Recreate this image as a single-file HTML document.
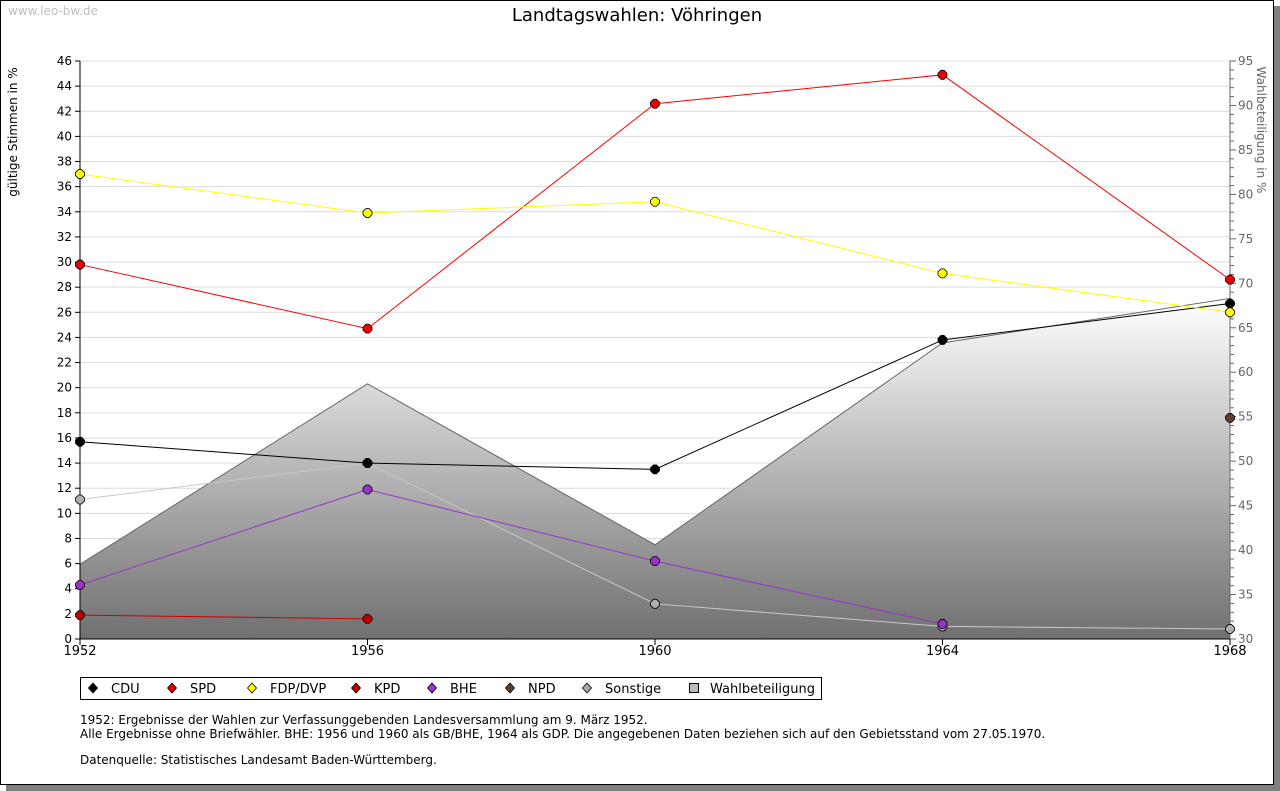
<!DOCTYPE html>
<html><head><meta charset="utf-8">
<style>
body{margin:0;background:#fff;font-family:"DejaVu Sans","Liberation Sans",sans-serif;}
#frame{position:absolute;left:0;top:0;width:1272px;height:783px;border:1px solid #000;background:#fff;box-shadow:6px 6px 0 #808080;}
svg{position:absolute;left:0;top:0}
.t{font-size:12px;fill:#000}
</style></head><body>
<div id="frame"></div>
<svg id="c" width="1280" height="791">
<defs><linearGradient id="g" gradientUnits="userSpaceOnUse"></linearGradient></defs>
</svg>
<script>
const years=[1952,1956,1960,1964,1968];
const cdu=[15.7,14.0,13.5,23.8,26.7];
const spd=[29.8,24.7,42.6,44.9,28.6];
const fdp=[37.0,33.9,34.8,29.1,26.0];
const kpd=[1.9,1.6,null,null,null];
const bhe=[4.3,11.9,6.2,1.2,null];
const npd=[null,null,null,null,17.6];
const sonst=[11.1,14.0,2.8,1.0,0.8];
const wahl=[38.4,58.7,40.6,63.3,68.3];
const leftTicks=[0,2,4,6,8,10,12,14,16,18,20,22,24,26,28,30,32,34,36,38,40,42,44,46];
const rightTicks=[30,35,40,45,50,55,60,65,70,75,80,85,90,95];

const NS="http://www.w3.org/2000/svg";
const svg=document.getElementById('c');
const X0=80,X1=1230,Y0=639,Y1=61;
const x=v=>X0+(v-1952)/(1968-1952)*(X1-X0);
const yl=v=>Y0-v/46*(Y0-Y1);
const yr=v=>Y0-(v-30)/65*(Y0-Y1);
function el(tag,a,p){const e=document.createElementNS(NS,tag);for(const k in a)e.setAttribute(k,a[k]);(p||svg).appendChild(e);return e;}
function txt(s,a){const e=el('text',a);e.textContent=s;return e;}

const g=svg.querySelector('#g');
g.setAttribute('x1',0);g.setAttribute('x2',0);g.setAttribute('y1',yr(Math.max(...wahl)));g.setAttribute('y2',Y0);
el('stop',{offset:'0','stop-color':'#ffffff'},g);el('stop',{offset:'1','stop-color':'#707070'},g);

const wm=txt('www.leo-bw.de',{x:8,y:15,'font-size':12,fill:'#c0c0c0'});


let tt=txt('Landtagswahlen: Vöhringen',{x:637,y:21,'font-size':18,'text-anchor':'middle',fill:'#000'});


leftTicks.forEach(v=>{
 if(v>0){const l=el('line',{x1:X0,x2:X1,y1:yl(v),y2:yl(v),stroke:'#dcdcdc'});}
 el('line',{x1:X0-5,x2:X0,y1:yl(v),y2:yl(v),stroke:'#000'});
 const t=txt(String(v),{x:X0-8,y:yl(v)+4,'text-anchor':'end',class:'t'});
 
});
let d='M'+x(years[0])+','+Y0;
years.forEach((yy,i)=>d+=' L'+x(yy)+','+yr(wahl[i]));
d+=' L'+x(years[years.length-1])+','+Y0+' Z';
const ar=el('path',{d:d,fill:'url(#g)',stroke:'#666','stroke-width':1});


el('line',{x1:X0,x2:X0,y1:Y1,y2:Y0,stroke:'#000'});
el('line',{x1:X0,x2:X1,y1:Y0,y2:Y0,stroke:'#000'});
el('line',{x1:X1,x2:X1,y1:Y1,y2:Y0,stroke:'#666'});
for(let v=30;v<=95;v++){const mj=v%5==0;el('line',{x1:X1,x2:X1+(mj?6:4),y1:yr(v),y2:yr(v),stroke:'#666'});}
rightTicks.forEach(v=>{const t=txt(String(v),{x:X1+8,y:yr(v)+4,'font-size':12,fill:'#666'});});
years.forEach(yy=>{el('line',{x1:x(yy),x2:x(yy),y1:Y0,y2:Y0+6,stroke:'#000'});
 const t=txt(String(yy),{x:x(yy),y:Y0+16,'text-anchor':'middle','font-size':13,fill:'#000'});});
let a1=txt('gültige Stimmen in %',{transform:'translate(17,132) rotate(-90)','text-anchor':'middle','font-size':12,fill:'#000'});

let a2=txt('Wahlbeteiligung in %',{transform:'translate(1257,130) rotate(90)','text-anchor':'middle','font-size':12,fill:'#666'});


const series=[['sonstige',sonst,'#c8c8c8','#b0b0b0'],['cdu',cdu,'#000','#000'],['spd',spd,'#ff0000','#ee0000'],['fdp',fdp,'#ffff00','#ffff00'],['kpd',kpd,'#cc0000','#c00000'],['bhe',bhe,'#9933cc','#9933cc'],['npd',npd,'#553322','#5a4030']];
series.forEach(([n,vals,lc,fc])=>{
 let pts=[];vals.forEach((v,i)=>{if(v!=null)pts.push([x(years[i]),yl(v)]);});
 if(pts.length>1){const p=el('polyline',{points:pts.map(p=>p.join(',')).join(' '),fill:'none',stroke:lc,'stroke-width':1});}
 pts.forEach(([px,py])=>{const m=el('path',{d:`M${px-1.5},${py-4.5}L${px+1.5},${py-4.5}L${px+4.5},${py-1.5}L${px+4.5},${py+1.5}L${px+1.5},${py+4.5}L${px-1.5},${py+4.5}L${px-4.5},${py+1.5}L${px-4.5},${py-1.5}Z`,fill:fc,stroke:'#000','stroke-width':0.8});
  });
});

const lg=el('rect',{x:80.5,y:677.5,width:741,height:22,fill:'#fff',stroke:'#000'});

const legend=[['CDU','#000',93],['SPD','#e00000',172],['FDP/DVP','#ffff00',252],['KPD','#c00000',356],['BHE','#9933cc',432],['NPD','#5a4030',510],['Sonstige','#a8a8a8',587]];
legend.forEach(([n,c,lx])=>{
 const m=el('path',{d:`M${lx},${683}L${lx+4.5},${688}L${lx},${693}L${lx-4.5},${688}Z`,fill:c,stroke:'#000','stroke-width':0.8});
 
 const t=txt(n,{x:lx+18,y:693,'font-size':13,fill:'#000'});
});
const lb=el('rect',{x:689.5,y:683.5,width:9,height:9,fill:'#bbb',stroke:'#000'});
const lt=txt('Wahlbeteiligung',{x:710,y:693,'font-size':13,fill:'#000'});

[['1952: Ergebnisse der Wahlen zur Verfassunggebenden Landesversammlung am 9. März 1952.',724],
 ['Alle Ergebnisse ohne Briefwähler. BHE: 1956 und 1960 als GB/BHE, 1964 als GDP. Die angegebenen Daten beziehen sich auf den Gebietsstand vom 27.05.1970.',738],
 ['Datenquelle: Statistisches Landesamt Baden-Württemberg.',764]].forEach(([s,yy])=>{
 const t=txt(s,{x:80,y:yy,'font-size':12,fill:'#000'});});
</script>
</body></html>
